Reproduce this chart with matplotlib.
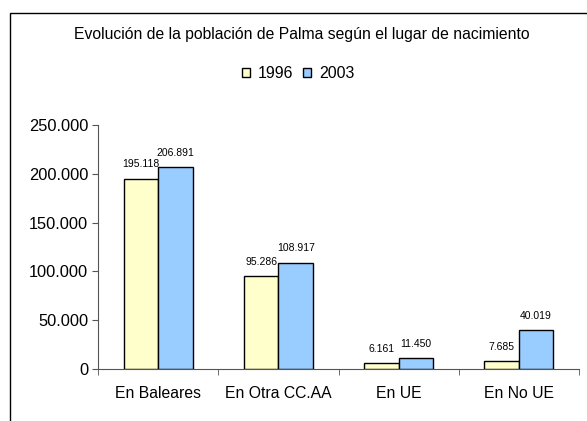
import matplotlib.pyplot as plt
import numpy as np
from matplotlib.patches import Rectangle, Patch
from matplotlib.ticker import FuncFormatter

plt.rcParams['font.family'] = ['Liberation Sans', 'DejaVu Sans']

categorias = ["En Baleares", "En Otra CC.AA", "En UE", "En No UE"]
series = ["1996", "2003"]
v1996 = [195118, 95286, 6161, 7685]
v2003 = [206891, 108917, 11450, 40019]
colores = ["#FFFFCC", "#99CCFF"]

W, H = 587, 421
fig = plt.figure(figsize=(W / 100, H / 100), dpi=100)

# marco exterior del grafico
fig.patches.append(Rectangle((9.5 / W, -0.1), 1.2, 1 - 13 / H + 0.1, transform=fig.transFigure,
                             fill=False, edgecolor="black", linewidth=1.0))

ax = fig.add_axes([98 / W, (H - 369) / H, (579 - 98) / W, (369 - 125) / H])

def miles(v, pos=None):
    return f"{int(round(v)):,}".replace(",", ".")

x = np.arange(len(categorias))
ancho = 0.2875
for i, (vals, nombre, col) in enumerate(zip([v1996, v2003], series, colores)):
    off = (i - 0.5) * ancho
    ax.bar(x + off, vals, ancho, color=col, edgecolor="black", linewidth=1.0, label=nombre)
    for xi, v in zip(x + off, vals):
        ax.text(xi, v + 9500, miles(v), ha="center", va="bottom", fontsize=7.5)

ax.set_xlim(-0.5, len(categorias) - 0.5)
ax.set_ylim(0, 250000)
ax.set_yticks(np.arange(0, 250001, 50000))
ax.yaxis.set_major_formatter(FuncFormatter(miles))
ax.set_xticks(x)
ax.set_xticklabels(categorias)
ax.set_xticks(np.arange(-0.5, len(categorias)), minor=True)
ax.tick_params(axis="x", which="major", length=0, pad=12, labelsize=11.3)
ax.tick_params(axis="x", which="minor", length=4, color="#555555")
ax.tick_params(axis="y", length=4, color="#555555", labelsize=11.8, pad=3)
for s in ["top", "right"]:
    ax.spines[s].set_visible(False)
for s in ["left", "bottom"]:
    ax.spines[s].set_color("#555555")

fig.text(302 / W, 1 - 35 / H, "Evolución de la población de Palma según el lugar de nacimiento",
         ha="center", va="center", fontsize=11.3)

handles = [Patch(facecolor=c, edgecolor="black", linewidth=1.0) for c in colores]
fig.legend(handles, series, loc="center", bbox_to_anchor=(298 / W, 1 - 74 / H), ncol=2,
           frameon=False, fontsize=11.5, handlelength=0.5, handleheight=0.5,
           handletextpad=0.5, columnspacing=0.6)

fig.savefig("out.png", dpi=100)
